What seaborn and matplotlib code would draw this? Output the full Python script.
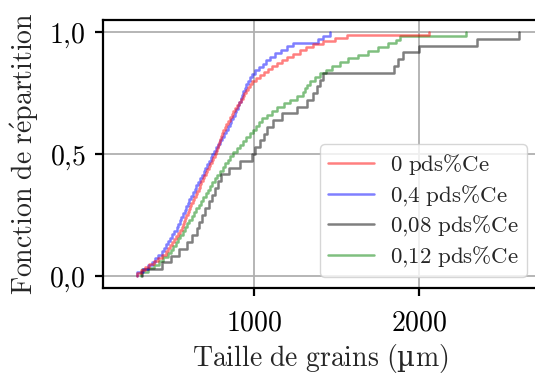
import numpy as np
import pandas as pd
import matplotlib
matplotlib.use("Agg")
import matplotlib.pyplot as plt
import seaborn as sns
from matplotlib.ticker import FuncFormatter

# grain sizes (um), one list per alloy
taille_0 = [295, 320, 345, 370, 395, 420, 445, 470, 482, 494, 505, 517, 529, 541, 553, 564,
            571, 579, 586, 594, 601, 609, 616, 624, 633, 641, 650, 658, 667, 676, 684, 693,
            702, 711, 720, 729, 738, 747, 756, 765, 771, 777, 783, 789, 795, 801, 807, 813,
            824, 834, 845, 856, 866, 877, 888, 898, 910, 921, 933, 944, 956, 967, 979, 990,
            1013, 1037, 1060, 1084, 1113, 1142, 1170, 1199, 1238, 1277, 1317, 1356,
            1420, 1490, 1560, 2060]
taille_04 = [295, 330, 360, 385, 405, 425, 446, 459, 471, 484, 496, 509, 521, 534,
             544, 553, 563, 573, 583, 592, 602, 612, 623, 633, 644, 654, 665, 675,
             686, 697, 708, 719, 729, 740, 751, 763, 775, 787, 799, 811, 823, 835,
             845, 855, 865, 874, 884, 894, 904, 913, 921, 930, 938, 947, 955, 964,
             978, 992, 1006, 1030, 1055, 1075, 1096, 1130, 1165, 1200, 1235,
             1385, 1420, 1458]
taille_008 = [325, 446, 500, 550, 595, 625, 655, 672, 690, 708, 727, 748, 765, 783, 800,
              850, 916, 988, 1010, 1036, 1060, 1078, 1115, 1169, 1259, 1319, 1355, 1380,
              1398, 1416, 1849, 1870, 1900, 2000, 2349, 2602]
taille_012 = [320, 360, 395, 430, 455, 480, 501, 515, 529, 543, 557, 570, 584,
              598, 612, 626, 640, 654, 668, 682, 696, 710, 724, 737, 751, 765,
              781, 796, 812, 827, 843, 858, 876, 896, 915, 935, 955, 975, 994,
              1012, 1030, 1050, 1080, 1110, 1140, 1180, 1220, 1260, 1298, 1311, 1324, 1337,
              1370, 1400, 1435, 1475, 1520, 1570, 1630, 1690, 1750, 1810, 1861, 1880, 2283]

labels = ["0 pds%Ce", "0,4 pds%Ce", "0,08 pds%Ce", "0,12 pds%Ce"]
couleurs = ["red", "blue", "black", "green"]

df = pd.concat([
    pd.DataFrame({"taille": t, "alliage": lab})
    for t, lab in zip([taille_0, taille_04, taille_008, taille_012], labels)
])

sns.set_style("ticks")
plt.rcParams["font.family"] = ["DejaVu Serif"]
plt.rcParams["mathtext.fontset"] = "cm"


def tex(s):
    # computer modern look through mathtext
    s = s.replace(" ", r"\ ").replace("%", r"\%").replace(",", "{,}")
    return r"$\mathrm{" + s + "}$"


fig = plt.figure(figsize=(5.35, 3.88), dpi=100)
ax = fig.add_axes([103 / 535, 1 - 288 / 388, (537 - 103) / 535, (288 - 20) / 388])

sns.ecdfplot(data=df, x="taille", hue="alliage", hue_order=labels,
             palette=dict(zip(labels, couleurs)), alpha=0.5, linewidth=1.8, ax=ax)

ax.set_xlim(90, 2710)
ax.set_ylim(-0.05, 1.05)
ax.set_xticks([1000, 2000])
ax.set_yticks([0, 0.5, 1.0])
ax.xaxis.set_major_formatter(FuncFormatter(lambda v, p: tex(f"{v:.0f}")))
ax.yaxis.set_major_formatter(FuncFormatter(lambda v, p: tex(f"{v:.1f}".replace(".", ","))))
ax.grid(True, color="#b0b0b0", linewidth=1.3)
ax.set_axisbelow(True)
for s in ax.spines.values():
    s.set_linewidth(1.6)
    s.set_color("black")
ax.tick_params(width=1.6, length=5.5, labelsize=20, color="black", labelcolor="black")
ax.tick_params(axis="x", pad=10)
ax.tick_params(axis="y", pad=7)

ax.set_xlabel(tex("Taille de grains (") + "µ" + tex("m)"), fontsize=20, labelpad=4)
ax.set_ylabel(tex("Fonction de r") + r"$\acute{\mathrm{e}}$" + tex("partition"), fontsize=20,
              labelpad=6)

# legend drawn from the seaborn lines
leg = ax.get_legend()
handles = leg.legend_handles
leg.remove()
ax.legend(handles, [tex(l) for l in labels], loc="lower right", fontsize=16.5, framealpha=0.8,
          edgecolor="#cccccc", bbox_to_anchor=(0.977, 0.041), borderaxespad=0,
          labelspacing=0.25, handlelength=2.0, handletextpad=0.7, borderpad=0.35)

fig.savefig("out.png", dpi=100)
